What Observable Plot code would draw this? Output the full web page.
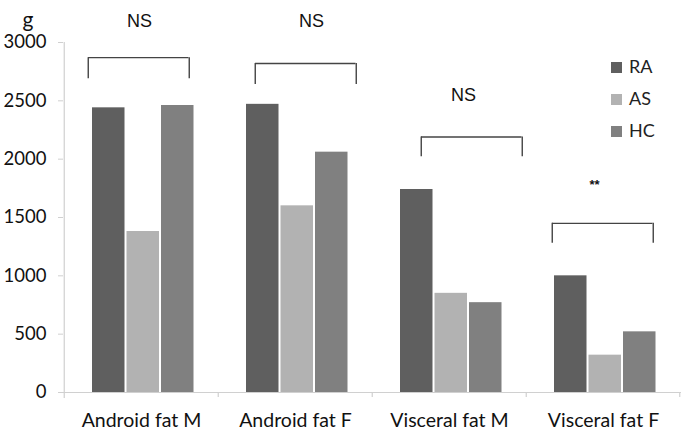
<!DOCTYPE html>
<html><head><meta charset="utf-8">
<script src="https://cdn.jsdelivr.net/npm/d3@7"></script>
<script src="https://cdn.jsdelivr.net/npm/@observablehq/plot@0.6"></script>
<style>
body{margin:0;background:#fff;}
#wrap{position:relative;width:686px;height:432px;}
.leg{position:absolute;left:611px;font:18px Lato,"Open Sans",sans-serif;color:#222;line-height:20px;}
.leg span{display:inline-block;width:11px;height:11px;margin-right:7px;vertical-align:0px;}
</style></head>
<body><div id="wrap"></div>
<script>
const categories = ["Android fat M", "Android fat F", "Visceral fat M", "Visceral fat F"];
const series = ["RA", "AS", "HC"];
const colors = ["#5f5f5f", "#b2b2b2", "#808080"];
const RA = [2440, 2470, 1740, 1000];
const AS = [1380, 1600, 850, 320];
const HC = [2460, 2060, 770, 520];
const yTicks = [0, 500, 1000, 1500, 2000, 2500, 3000];
const sigLabels = ["NS", "NS", "NS", "**"];
const labelY = [3180, 3180, 2550, 1780];
const bracketTop = [2870, 2820, 2190, 1450];
const bracketBottom = [2690, 2640, 2020, 1280];

const W = 686, H = 432, mL = 63, mR = 5, mT = 42, mB = 40;
const bw = (W - mL - mR) / categories.length;
const outerL = 28, barW = 33, gap = 1.5;
const spanW = 3 * barW + 2 * gap;
// annotation styling: horizontal nudges (px) of each bracket and label, as drawn in the original
const bracketNudge = [-2, 11, 23, 0];
const labelNudge = [-2, 16, 14, -9];

const values = [RA, AS, HC];
const rows = categories.flatMap((c, i) => series.map((s, k) => ({cat: c, series: s, value: values[k][i]})));
const ann = categories.map((c, i) => ({cat: c, i, label: sigLabels[i], ly: labelY[i], top: bracketTop[i], bot: bracketBottom[i]}));

const barMarks = series.map((s, k) => Plot.barY(rows.filter(d => d.series === s), {
  x: "cat", y: "value", fill: colors[k],
  insetLeft: outerL + k * (barW + gap),
  insetRight: bw - outerL - k * (barW + gap) - barW
}));

const bracketMarks = ann.flatMap(a => {
  const n = bracketNudge[a.i];
  return [
    Plot.tickY([a], {x: "cat", y: "top", insetLeft: outerL - 2 + n, insetRight: bw - outerL - spanW + 3 - n, stroke: "#444", strokeWidth: 1.4}),
    Plot.ruleX([a], {x: "cat", y1: "top", y2: "bot", dx: -bw / 2 + outerL - 2 + n, stroke: "#444", strokeWidth: 1.4}),
    Plot.ruleX([a], {x: "cat", y1: "top", y2: "bot", dx: -bw / 2 + outerL + spanW - 3 + n, stroke: "#444", strokeWidth: 1.4}),
    a.label === "**"
      ? Plot.text([a], {x: "cat", y: "ly", text: "label", dx: labelNudge[a.i], fontFamily: "Liberation Sans, Arial, sans-serif", fontSize: 13, fontWeight: "bold", fill: "#111"})
      : Plot.text([a], {x: "cat", y: "ly", text: "label", dx: labelNudge[a.i], fontFamily: "Liberation Sans, Arial, sans-serif", fontSize: 18, fill: "#111"})
  ];
});

const chart = Plot.plot({
  width: W, height: H, marginLeft: mL, marginRight: mR, marginTop: mT, marginBottom: mB,
  style: {fontFamily: "Lato, 'Open Sans', sans-serif", fontSize: "18px", color: "#111", background: "#fff"},
  x: {type: "band", domain: categories, padding: 0, label: null},
  y: {domain: [0, 3000], ticks: yTicks, label: null},
  marks: [
    Plot.ruleX([categories[0]], {x: d => d, dx: -bw / 2, y1: 3000, y2: 0, insetBottom: -6, stroke: "#d0d0d0", strokeWidth: 1.2}),
    Plot.ruleY([0], {stroke: "#d0d0d0", strokeWidth: 1.2}),
    Plot.ruleX(categories.slice(1), {x: d => d, dx: -bw / 2, y1: 0, y2: 0, insetBottom: -5, stroke: "#d0d0d0", strokeWidth: 1.2}),
    Plot.ruleX([categories[categories.length - 1]], {x: d => d, dx: bw / 2 - 1, y1: 0, y2: 0, insetBottom: -5, stroke: "#d0d0d0", strokeWidth: 1.2}),
    ...barMarks,
    ...bracketMarks,
    Plot.axisY({ticks: yTicks, tickSize: 5, tickPadding: 12, stroke: "#d0d0d0", label: null, tickFormat: d => String(d), fill: "#111", fontSize: 18.5}),
    Plot.axisX({tickSize: 0, tickPadding: 21, label: null, fill: "#111", fontSize: 19.5}),
    Plot.text(["g"], {frameAnchor: "top-left", dx: -41, dy: -30, text: d => d, fontSize: 21, fill: "#111"})
  ]
});
const wrap = document.getElementById("wrap");
wrap.appendChild(chart);
series.forEach((s, k) => {
  const d = document.createElement("div");
  d.className = "leg";
  d.style.top = (56 + k * 32) + "px";
  d.innerHTML = `<span style="background:${colors[k]}"></span>${s}`;
  wrap.appendChild(d);
});
</script></body></html>
